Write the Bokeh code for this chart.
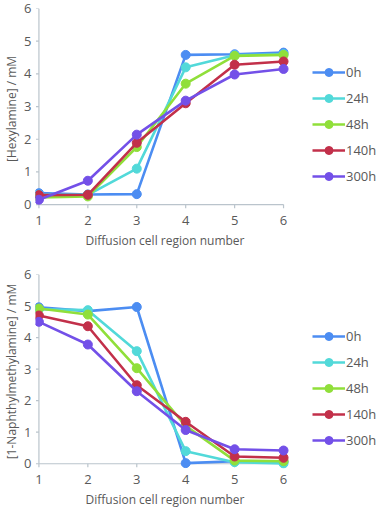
from bokeh.plotting import figure
from bokeh.layouts import column
from bokeh.models import Range1d, Legend, LegendItem, FixedTicker, Title
from bokeh.embed import file_html
from bokeh.resources import INLINE

regions = [1, 2, 3, 4, 5, 6]
series_names = ["0h", "24h", "48h", "140h", "300h"]
colors = ["#4C8DF2", "#52D9D9", "#90DF3A", "#C2304A", "#7350E8"]

hexylamine_0h = [0.35, 0.31, 0.32, 4.58, 4.60, 4.65]
hexylamine_24h = [0.30, 0.30, 1.10, 4.20, 4.57, 4.60]
hexylamine_48h = [0.22, 0.25, 1.76, 3.70, 4.55, 4.58]
hexylamine_140h = [0.29, 0.30, 1.89, 3.10, 4.28, 4.38]
hexylamine_300h = [0.15, 0.73, 2.14, 3.18, 3.98, 4.15]

naphthyl_0h = [4.96, 4.84, 4.97, 0.02, 0.08, 0.07]
naphthyl_24h = [4.90, 4.87, 3.57, 0.40, 0.05, 0.01]
naphthyl_48h = [4.92, 4.73, 3.03, 1.20, 0.10, 0.08]
naphthyl_140h = [4.70, 4.36, 2.49, 1.33, 0.23, 0.19]
naphthyl_300h = [4.50, 3.78, 2.30, 1.07, 0.46, 0.42]

y_ticks = [0, 1, 2, 3, 4, 5, 6]
x_label = "Diffusion cell region number"

FONT = "Open Sans"
TXT = "#595959"
AXC = "#BAC4CC"
W = 376


def make_fig(data, ylabel, height, top_border, bottom_border, legend_y):
    p = figure(width=W, height=height, output_backend="svg", toolbar_location=None,
               x_range=Range1d(0.93, 7.9), y_range=Range1d(-0.15, 6.0),
               min_border_left=35, min_border_right=0, min_border_top=top_border,
               min_border_bottom=bottom_border)
    p.outline_line_color = None
    p.grid.visible = False
    p.background_fill_color = "white"
    # axis decoration lines at x=1 and y=0, with small ticks
    p.line(x=[regions[0], regions[0]], y=[y_ticks[0], y_ticks[-1]], line_color=AXC, line_width=1.2)
    p.line(x=[regions[0], regions[-1]], y=[y_ticks[0], y_ticks[0]], line_color=AXC, line_width=1.2)
    p.segment(x0=regions, y0=[0] * len(regions), x1=regions, y1=[-0.11] * len(regions),
              line_color=AXC, line_width=1.2)
    p.segment(x0=[regions[0]] * len(y_ticks), y0=y_ticks, x1=[regions[0] - 0.06] * len(y_ticks),
              y1=y_ticks, line_color=AXC, line_width=1.2)

    items = []
    for name, col, ys in zip(series_names, colors, data):
        r1 = p.line(regions, ys, line_color=col, line_width=2.6)
        r2 = p.scatter(regions, ys, size=9, fill_color=col, line_color=col)
        items.append(LegendItem(label=name, renderers=[r1, r2]))

    for ax in (p.xaxis, p.yaxis):
        ax.axis_line_color = None
        ax.major_tick_line_color = None
        ax.minor_tick_line_color = None
        ax.major_tick_out = 0
        ax.major_tick_in = 0
        ax.minor_tick_out = 0
        ax.minor_tick_in = 0
        ax.major_label_text_font = FONT
        ax.major_label_text_color = TXT
        ax.major_label_text_font_size = "13px"
        ax.axis_label_text_font = FONT
        ax.axis_label_text_color = TXT
        ax.axis_label_text_font_size = "12px"
        ax.axis_label_text_font_style = "normal"
    p.xaxis.ticker = FixedTicker(ticks=regions)
    p.yaxis.ticker = FixedTicker(ticks=y_ticks)
    p.xaxis.major_label_standoff = 6
    p.yaxis.major_label_standoff = 4
    p.yaxis.axis_label_standoff = 1
    p.yaxis.axis_label = ylabel

    xt = Title(text=x_label, align="left", offset=50, standoff=5,
               text_font=FONT, text_font_size="12px", text_font_style="normal",
               text_color=TXT)
    p.add_layout(xt, "below")

    leg = Legend(items=items, location=(277, legend_y), orientation="vertical")
    leg.glyph_width = 33
    leg.glyph_height = 20
    leg.spacing = 6
    leg.padding = 0
    leg.margin = 0
    leg.label_standoff = 1
    leg.border_line_color = None
    leg.background_fill_alpha = 0
    leg.label_text_font = FONT
    leg.label_text_font_size = "13px"
    leg.label_text_color = TXT
    p.add_layout(leg, "center")
    return p


p1 = make_fig([hexylamine_0h, hexylamine_24h, hexylamine_48h, hexylamine_140h, hexylamine_300h],
              "[Hexylamine] / mM", 255, 8, 46, 23)
p2 = make_fig([naphthyl_0h, naphthyl_24h, naphthyl_48h, naphthyl_140h, naphthyl_300h],
              "[1-Naphthylmethylamine] / mM", 255, 19, 41, 18)

layout = column(p1, p2, spacing=0)
open("out.html", "w").write(file_html(layout, INLINE))
